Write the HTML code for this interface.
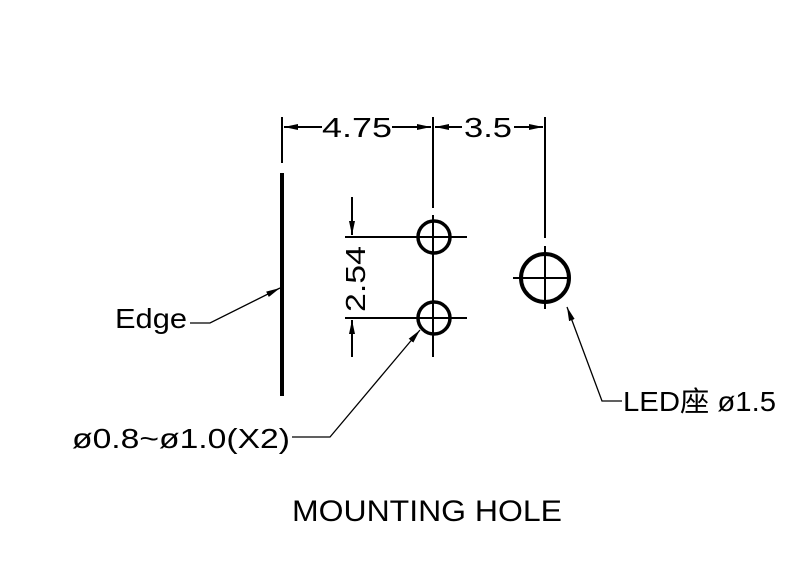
<!DOCTYPE html>
<html><head><meta charset="utf-8"><style>
html,body{margin:0;padding:0;background:#fff;}
svg{display:block}
text{font-family:"Liberation Sans","Noto Sans CJK TC",sans-serif;fill:#000}
</style></head><body>
<svg width="800" height="576" viewBox="0 0 800 576" xmlns="http://www.w3.org/2000/svg">
<defs>
<marker id="a" markerWidth="14" markerHeight="6" refX="14" refY="3" orient="auto" markerUnits="userSpaceOnUse">
<path d="M0,0 L14,3 L0,6 Z" fill="#000"/></marker>
</defs>
<g stroke="#000" stroke-width="2" fill="none">
<line x1="282" y1="117" x2="282" y2="163"/>
<line x1="433" y1="117" x2="433" y2="208"/>
<line x1="545" y1="117" x2="545" y2="238"/>
<line x1="322" y1="127" x2="284" y2="127" marker-end="url(#a)"/>
<line x1="392" y1="127" x2="431" y2="127" marker-end="url(#a)"/>
<line x1="462" y1="127" x2="435" y2="127" marker-end="url(#a)"/>
<line x1="514" y1="127" x2="543" y2="127" marker-end="url(#a)"/>
<line x1="282" y1="173" x2="282" y2="396" stroke-width="4"/>
<line x1="345" y1="237" x2="467" y2="237"/>
<line x1="345" y1="318" x2="467" y2="318"/>
<line x1="433" y1="215" x2="433" y2="357"/>
<circle cx="434" cy="237" r="16" stroke-width="3.5"/>
<circle cx="434" cy="318" r="16" stroke-width="3.5"/>
<circle cx="545" cy="278" r="24" stroke-width="4"/>
<line x1="513" y1="278" x2="570" y2="278"/>
<line x1="545" y1="246" x2="545" y2="309"/>
<line x1="352" y1="197" x2="352" y2="235" marker-end="url(#a)"/>
<line x1="352" y1="357" x2="352" y2="320" marker-end="url(#a)"/>
<polyline points="190,323 210,323 280,288" stroke-width="1.3" marker-end="url(#a)"/>
<polyline points="292,437 330,437 420,330" stroke-width="1.3" marker-end="url(#a)"/>
<polyline points="622,401 602,401 567,307" stroke-width="1.3" marker-end="url(#a)"/>
</g>
<g font-size="28">
<text x="322" y="137" textLength="70" lengthAdjust="spacingAndGlyphs">4.75</text>
<text x="464" y="137" textLength="48" lengthAdjust="spacingAndGlyphs">3.5</text>
<text transform="translate(365,312) rotate(-90)" textLength="66" lengthAdjust="spacingAndGlyphs">2.54</text>
<text x="115" y="328" textLength="72" lengthAdjust="spacingAndGlyphs">Edge</text>
<text x="72" y="448" textLength="218" lengthAdjust="spacingAndGlyphs">ø0.8~ø1.0(X2)</text>
<text x="623" y="411" textLength="153" lengthAdjust="spacingAndGlyphs">LED座 ø1.5</text>
<text x="292" y="521" font-size="30" textLength="270" lengthAdjust="spacingAndGlyphs">MOUNTING  HOLE</text>
</g>
</svg>
</body></html>
